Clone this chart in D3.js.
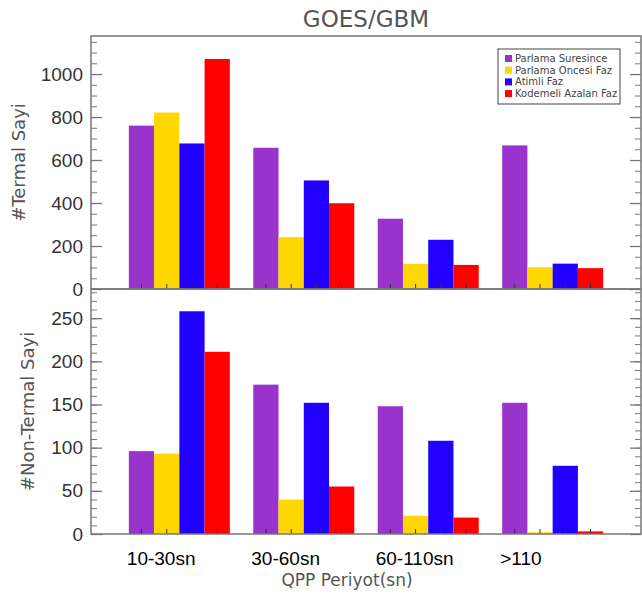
<!DOCTYPE html>
<html>
<head>
<meta charset="utf-8">
<script src="https://cdn.jsdelivr.net/npm/d3@7"></script>
<style>
  body { margin: 0; background: #fff; }
  svg { display: block; }
</style>
</head>
<body>
<div id="chart"></div>
<script>
// categories / series
var categories = ["10-30sn", "30-60sn", "60-110sn", ">110"];
var seriesNames = ["Parlama Suresince", "Parlama Oncesi Faz", "Atimli Faz", "Kodemeli Azalan Faz"];
var seriesColors = ["#9933cc", "#ffd700", "#2200ff", "#ff0000"];

// top panel: #Termal Sayi
var termalSuresince = [760, 657, 327, 668];
var termalOncesi    = [821, 241, 117, 101];
var termalAtimli    = [677, 505, 229, 118];
var termalKademeli  = [1070, 399, 112, 97];

// bottom panel: #Non-Termal Sayi
var nonTermalSuresince = [96, 173, 148, 152];
var nonTermalOncesi    = [93, 40, 21, 2];
var nonTermalAtimli    = [258, 152, 108, 79];
var nonTermalKademeli  = [211, 55, 19, 3];

var topTicks = [0, 200, 400, 600, 800, 1000];
var bottomTicks = [0, 50, 100, 150, 200, 250];

var W = 642, H = 595;
var left = 91, right = 641;
var hershey = "'DejaVu Sans', sans-serif";
var helv = "'Liberation Sans', Arial, sans-serif";

var svg = d3.select("#chart").append("svg")
	.attr("width", W)
	.attr("height", H);

var x0 = d3.scalePoint().domain(categories).range([left, right]).padding(0.71);
var x1 = d3.scaleBand().domain(seriesNames).range([-50.5, 50.5]);

function rows(arrs){
	var out = [];
	categories.forEach(function(c, i){
		seriesNames.forEach(function(s, j){
			out.push({cat: c, series: s, color: seriesColors[j], value: arrs[j][i]});
		});
	});
	return out;
}

function panel(opts){
	var y = d3.scaleLinear().domain([0, opts.max]).range([opts.bottom, opts.top]);
	var g = svg.append("g");
	var data = rows(opts.series);

	g.selectAll("rect.bar")
		.data(data)
		.enter()
		.append("rect")
		.attr("class", "bar")
		.attr("x", function(d){ return x0(d.cat) + x1(d.series); })
		.attr("width", x1.bandwidth())
		.attr("y", function(d){ return y(d.value); })
		.attr("height", function(d){ return opts.bottom - y(d.value); })
		.attr("fill", function(d){ return d.color; });

	// small ticks at bar centres
	g.selectAll("line.bt")
		.data(data)
		.enter()
		.append("line")
		.attr("class", "bt")
		.attr("x1", function(d){ return x0(d.cat) + x1(d.series) + x1.bandwidth() / 2; })
		.attr("x2", function(d){ return x0(d.cat) + x1(d.series) + x1.bandwidth() / 2; })
		.attr("y1", opts.bottom)
		.attr("y2", opts.bottom - 5)
		.attr("stroke", "#333")
		.attr("stroke-width", 1);

	// minor ticks
	var minor = d3.range(0, opts.max, opts.minorStep);
	g.append("g")
		.attr("transform", "translate(" + left + ",0)")
		.call(d3.axisLeft(y).tickValues(minor).tickSize(-6).tickFormat(""))
		.call(function(a){ a.select(".domain").remove(); a.selectAll("line").attr("stroke", "#777"); });
	g.append("g")
		.attr("transform", "translate(" + right + ",0)")
		.call(d3.axisRight(y).tickValues(minor).tickSize(-6).tickFormat(""))
		.call(function(a){ a.select(".domain").remove(); a.selectAll("line").attr("stroke", "#777"); });

	// major ticks
	g.append("g")
		.attr("transform", "translate(" + left + ",0)")
		.call(d3.axisLeft(y).tickValues(opts.ticks).tickSize(-11).tickPadding(8).tickFormat(d3.format("d")))
		.call(function(a){
			a.select(".domain").remove();
			a.selectAll("line").attr("stroke", "#777").attr("stroke-width", 1.3);
			a.selectAll("text")
				.attr("font-family", helv)
				.attr("font-size", 19)
				.attr("fill", "#333");
		});
	g.append("g")
		.attr("transform", "translate(" + right + ",0)")
		.call(d3.axisRight(y).tickValues(opts.ticks).tickSize(-11).tickFormat(""))
		.call(function(a){ a.select(".domain").remove(); a.selectAll("line").attr("stroke", "#777").attr("stroke-width", 1.3); });

	// frame
	g.append("rect")
		.attr("x", left)
		.attr("y", opts.top)
		.attr("width", right - left)
		.attr("height", opts.bottom - opts.top)
		.attr("fill", "none")
		.attr("stroke", "#777")
		.attr("stroke-width", 1.5);

	g.append("text")
		.attr("transform", "translate(" + opts.titleX + "," + ((opts.top + opts.bottom) / 2) + ") rotate(-90)")
		.attr("text-anchor", "middle")
		.attr("font-family", hershey)
		.attr("font-size", 18)
		.attr("fill", "#555")
		.text(opts.title);
	return y;
}

panel({
	series: [termalSuresince, termalOncesi, termalAtimli, termalKademeli],
	max: d3.max([termalSuresince, termalOncesi, termalAtimli, termalKademeli], function(a){ return d3.max(a); }) * 1.1,
	top: 36, bottom: 289,
	ticks: topTicks, minorStep: 50,
	title: "#Termal Sayi", titleX: 25
});

panel({
	series: [nonTermalSuresince, nonTermalOncesi, nonTermalAtimli, nonTermalKademeli],
	max: d3.max([nonTermalSuresince, nonTermalOncesi, nonTermalAtimli, nonTermalKademeli], function(a){ return d3.max(a); }) * 1.1,
	top: 289, bottom: 534,
	ticks: bottomTicks, minorStep: 10,
	title: "#Non-Termal Sayi", titleX: 34
});

// category labels
svg.selectAll("text.cat")
	.data(categories)
	.enter()
	.append("text")
	.attr("class", "cat")
	.attr("x", function(d){ return x0(d) + x1(seriesNames[0]) - 2; })
	.attr("y", 565)
	.attr("font-family", helv)
	.attr("font-size", 19)
	.attr("fill", "#000")
	.text(function(d){ return d; });

svg.append("text")
	.attr("x", 347)
	.attr("y", 586)
	.attr("text-anchor", "middle")
	.attr("font-family", hershey)
	.attr("font-size", 17)
	.attr("fill", "#555")
	.text("QPP Periyot(sn)");

svg.append("text")
	.attr("x", 366)
	.attr("y", 27)
	.attr("text-anchor", "middle")
	.attr("font-family", hershey)
	.attr("font-size", 23)
	.attr("fill", "#555")
	.text("GOES/GBM");

// legend
var lg = svg.append("g").attr("transform", "translate(498,49)");
lg.append("rect")
	.attr("width", 122)
	.attr("height", 55)
	.attr("fill", "#fff")
	.attr("stroke", "#444")
	.attr("stroke-width", 1);
var item = lg.selectAll("g.item")
	.data(seriesNames)
	.enter()
	.append("g")
	.attr("class", "item")
	.attr("transform", function(d, i){ return "translate(7," + (6 + i * 11.7) + ")"; });
item.append("rect")
	.attr("width", 7)
	.attr("height", 7)
	.attr("fill", function(d, i){ return seriesColors[i]; });
item.append("text")
	.attr("x", 10)
	.attr("y", 7)
	.attr("font-family", hershey)
	.attr("font-size", 10)
	.attr("fill", "#444")
	.text(function(d){ return d; });
</script>
</body>
</html>
